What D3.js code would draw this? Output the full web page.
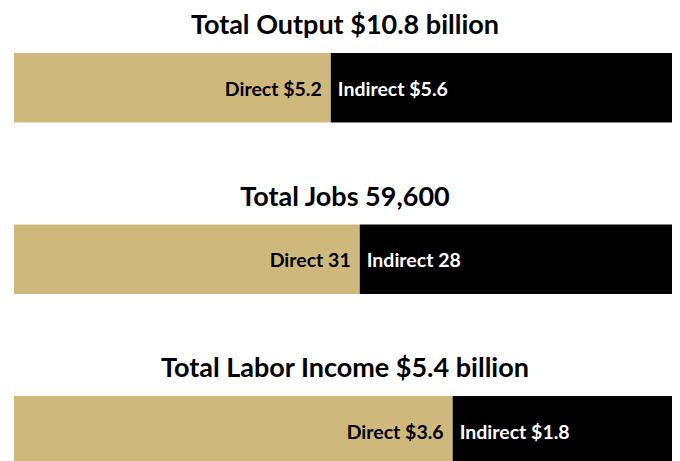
<!DOCTYPE html>
<meta charset="utf-8">
<script src="https://d3js.org/d3.v7.min.js"></script>
<style>
  body { margin: 0; background: #fff; }
  text { font-family: Lato, "Open Sans", sans-serif; font-weight: bold; }
</style>
<body>
<script>

// data
var titles = ["Total Output $10.8 billion", "Total Jobs 59,600", "Total Labor Income $5.4 billion"];
var directValues = [5.2, 31, 3.6];
var indirectValues = [5.6, 28, 1.8];
var directLabels = ["Direct $5.2", "Direct 31", "Direct $3.6"];
var indirectLabels = ["Indirect $5.6", "Indirect 28", "Indirect $1.8"];

var width = 680, height = 461;
var left = 14, right = 672;
var gold = "#cfb87c";

var svg = d3.select("body").append("svg")
    .attr("width", width)
    .attr("height", height);

// bands for each panel
var yScale = d3.scaleBand()
    .domain(titles)
    .range([53, 465.5])
    .paddingInner(0.595)
    .paddingOuter(0);

var panels = titles.map(function(t, i) {
    return {title: t, direct: directValues[i], indirect: indirectValues[i],
            dLabel: directLabels[i], iLabel: indirectLabels[i]};
});

var groups = svg.selectAll(".panel")
    .data(panels)
    .enter()
    .append("g")
    .attr("class", "panel")
    .attr("transform", d => `translate(0,${yScale(d.title)})`);

groups.each(function(d) {
    var g = d3.select(this);
    var x = d3.scaleLinear()
        .domain([0, d.direct + d.indirect])
        .range([left, right]);
    var bh = yScale.bandwidth();

    g.append("rect")
        .attr("x", x(0))
        .attr("y", 0)
        .attr("width", x(d.direct) - x(0))
        .attr("height", bh)
        .style("fill", gold);

    g.append("rect")
        .attr("x", x(d.direct))
        .attr("y", 0)
        .attr("width", x(d.direct + d.indirect) - x(d.direct))
        .attr("height", bh)
        .style("fill", "#000");

    // labels sit just either side of the split
    g.append("text")
        .attr("x", x(d.direct) - 9)
        .attr("y", bh / 2 + 8)
        .style("text-anchor", "end")
        .style("font-size", "19.5px")
        .style("fill", "#000")
        .text(d.dLabel);

    g.append("text")
        .attr("x", x(d.direct) + 7)
        .attr("y", bh / 2 + 8)
        .style("text-anchor", "start")
        .style("font-size", "19.5px")
        .style("fill", "#fff")
        .text(d.iLabel);

    g.append("text")
        .attr("x", (left + right) / 2 + 2)
        .attr("y", -19)
        .style("text-anchor", "middle")
        .style("font-size", "27px")
        .style("fill", "#000")
        .text(d.title);
});
</script>
</body>
